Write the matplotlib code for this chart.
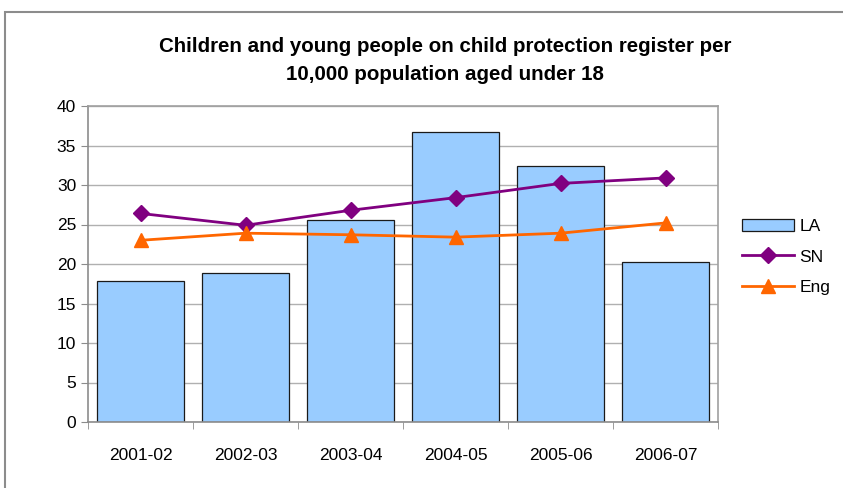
import numpy as np
import matplotlib
matplotlib.use("Agg")
import matplotlib.pyplot as plt
from matplotlib.patches import Rectangle

plt.rcParams["font.family"] = ["Liberation Sans", "DejaVu Sans"]

YEARS = ["2001-02", "2002-03", "2003-04", "2004-05", "2005-06", "2006-07"]
LA = [17.8, 18.9, 25.6, 36.7, 32.4, 20.3]
SN = [26.4, 24.9, 26.8, 28.4, 30.2, 30.9]
ENG = [23.0, 23.9, 23.7, 23.4, 23.9, 25.2]

W, H = 843, 488
fig = plt.figure(figsize=(W / 100, H / 100), dpi=100)

# outer chart frame
fig.patches.append(Rectangle((5 / W, -0.01), 1.0, (H - 12) / H + 0.01,
                             transform=fig.transFigure, fill=False,
                             edgecolor="#8c8c8c", linewidth=1.5))

ax = fig.add_axes([88 / W, 1 - 422 / H, (718 - 88) / W, (422 - 106) / H])

x = np.arange(len(YEARS))
bars = ax.bar(x, LA, width=0.826, color="#99ccff", edgecolor="#1a1a1a",
              linewidth=0.9, label="LA", zorder=2)
sn_line, = ax.plot(x, SN, color="#800080", linewidth=2, marker="D",
                   markersize=8, label="SN", zorder=3)
eng_line, = ax.plot(x, ENG, color="#ff6600", linewidth=2, marker="^",
                    markersize=10, label="Eng", zorder=3)

ax.set_xlim(-0.5, len(YEARS) - 0.5)
ax.set_ylim(0, 40)
ax.set_yticks(range(0, 41, 5))
ax.set_xticks(x)
ax.set_xticklabels(YEARS, fontsize=12.5)
ax.tick_params(axis="x", length=0, pad=19)
ax.set_xticks(np.arange(-0.5, len(YEARS)), minor=True)
ax.tick_params(axis="x", which="minor", length=5, color="#8c8c8c")
ax.tick_params(axis="y", labelsize=12.5, length=5, color="#8c8c8c")
ax.grid(axis="y", color="#b0b0b0", linewidth=1, zorder=0)
ax.set_axisbelow(True)
for s in ax.spines.values():
    s.set_color("#a0a0a0")
    s.set_linewidth(1.2)
ax.spines["left"].set_color("#8c8c8c")
ax.spines["bottom"].set_color("#8c8c8c")

fig.text(445 / W, 1 - 60 / H,
         "Children and young people on child protection register per\n"
         "10,000 population aged under 18",
         ha="center", va="center", fontsize=14.8, fontweight="bold",
         linespacing=1.6)

ax.legend([bars, sn_line, eng_line], ["LA", "SN", "Eng"],
          loc="center left", bbox_to_anchor=(735 / W, 1 - 257 / H),
          bbox_transform=fig.transFigure, frameon=False, fontsize=12.5,
          borderaxespad=0, handlelength=3.0, handleheight=0.7,
          handletextpad=0.3, labelspacing=0.9)

fig.savefig("out.png", dpi=100)
